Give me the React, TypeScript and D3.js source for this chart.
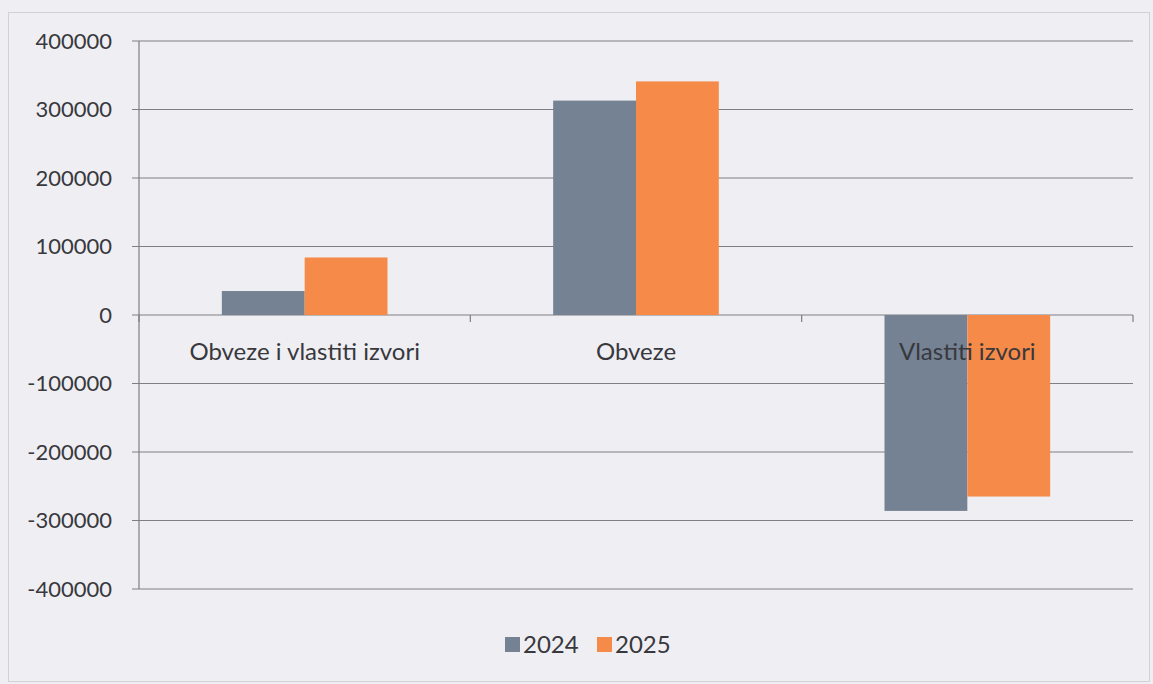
import React from "react";
import * as d3 from "d3";

const categories = ["Obveze i vlastiti izvori", "Obveze", "Vlastiti izvori"];
const seriesNames = ["2024", "2025"];
const values2024 = [35000, 313000, -286000];
const values2025 = [84000, 341000, -265000];
const yTicks = [400000, 300000, 200000, 100000, 0, -100000, -200000, -300000, -400000];

const W = 1153;
const H = 684;
const colors = ["#748294", "#f68a48"];
const font = "Lato, 'Open Sans', sans-serif";
const textColor = "#38383d";

export default function App() {
  const left = 139;
  const right = 1133;
  const top = 41;
  const bottom = 589;
  const y = d3.scaleLinear().domain([-400000, 400000]).range([bottom, top]);
  const x0 = d3.scaleBand<string>().domain(categories).range([left, right]).padding(0);
  const x1 = d3
    .scaleBand<string>()
    .domain(seriesNames)
    .range([0, x0.bandwidth()])
    .paddingInner(0)
    .paddingOuter(1);
  const seriesValues = [values2024, values2025];
  const y0 = y(0);

  return (
    <svg
      width={W}
      height={H}
      style={{ position: "absolute", left: 0, top: 0, background: "#efeff3" }}
    >
      <rect x={0} y={0} width={W} height={H} fill="#efeff3" />
      <rect x={8.5} y={12.5} width={1141} height={669} fill="none" stroke="#d2d2d6" strokeWidth={1} />
      {/* gridlines and y ticks */}
      {yTicks.map((t) => (
        <g key={t}>
          <line x1={left - 7} x2={right} y1={y(t)} y2={y(t)} stroke="#7e7e83" strokeWidth={1.2} />
          <text
            x={112}
            y={y(t)}
            dy="0.35em"
            textAnchor="end"
            fontFamily={font}
            fontSize={22}
            fill={textColor}
          >
            {t}
          </text>
        </g>
      ))}
      {/* y axis */}
      <line x1={left} x2={left} y1={top} y2={bottom} stroke="#7e7e83" strokeWidth={1.2} />
      {/* bars */}
      {categories.map((c, i) => (
        <g key={c}>
          {seriesNames.map((s, j) => {
            const v = seriesValues[j][i];
            const yv = y(v);
            return (
              <rect
                key={s}
                x={(x0(c) ?? 0) + (x1(s) ?? 0)}
                y={Math.min(yv, y0)}
                width={x1.bandwidth()}
                height={Math.abs(yv - y0)}
                fill={colors[j]}
              />
            );
          })}
        </g>
      ))}
      {/* x axis ticks */}
      {[...categories.map((c) => x0(c) ?? 0), right].map((xx, i) => (
        <line key={i} x1={xx} x2={xx} y1={y0} y2={y0 + 7} stroke="#7e7e83" strokeWidth={1.2} />
      ))}
      {/* category labels */}
      {categories.map((c) => (
        <text
          key={c}
          x={(x0(c) ?? 0) + x0.bandwidth() / 2}
          y={360}
          textAnchor="middle"
          fontFamily={font}
          fontSize={24}
          fill={textColor}
        >
          {c}
        </text>
      ))}
      {/* legend */}
      {seriesNames.map((s, j) => {
        const lx = j === 0 ? 505 : 597;
        return (
          <g key={s}>
            <rect x={lx} y={637} width={15} height={15} fill={colors[j]} />
            <text x={lx + 18} y={653} fontFamily={font} fontSize={24} fill={textColor}>
              {s}
            </text>
          </g>
        );
      })}
    </svg>
  );
}
